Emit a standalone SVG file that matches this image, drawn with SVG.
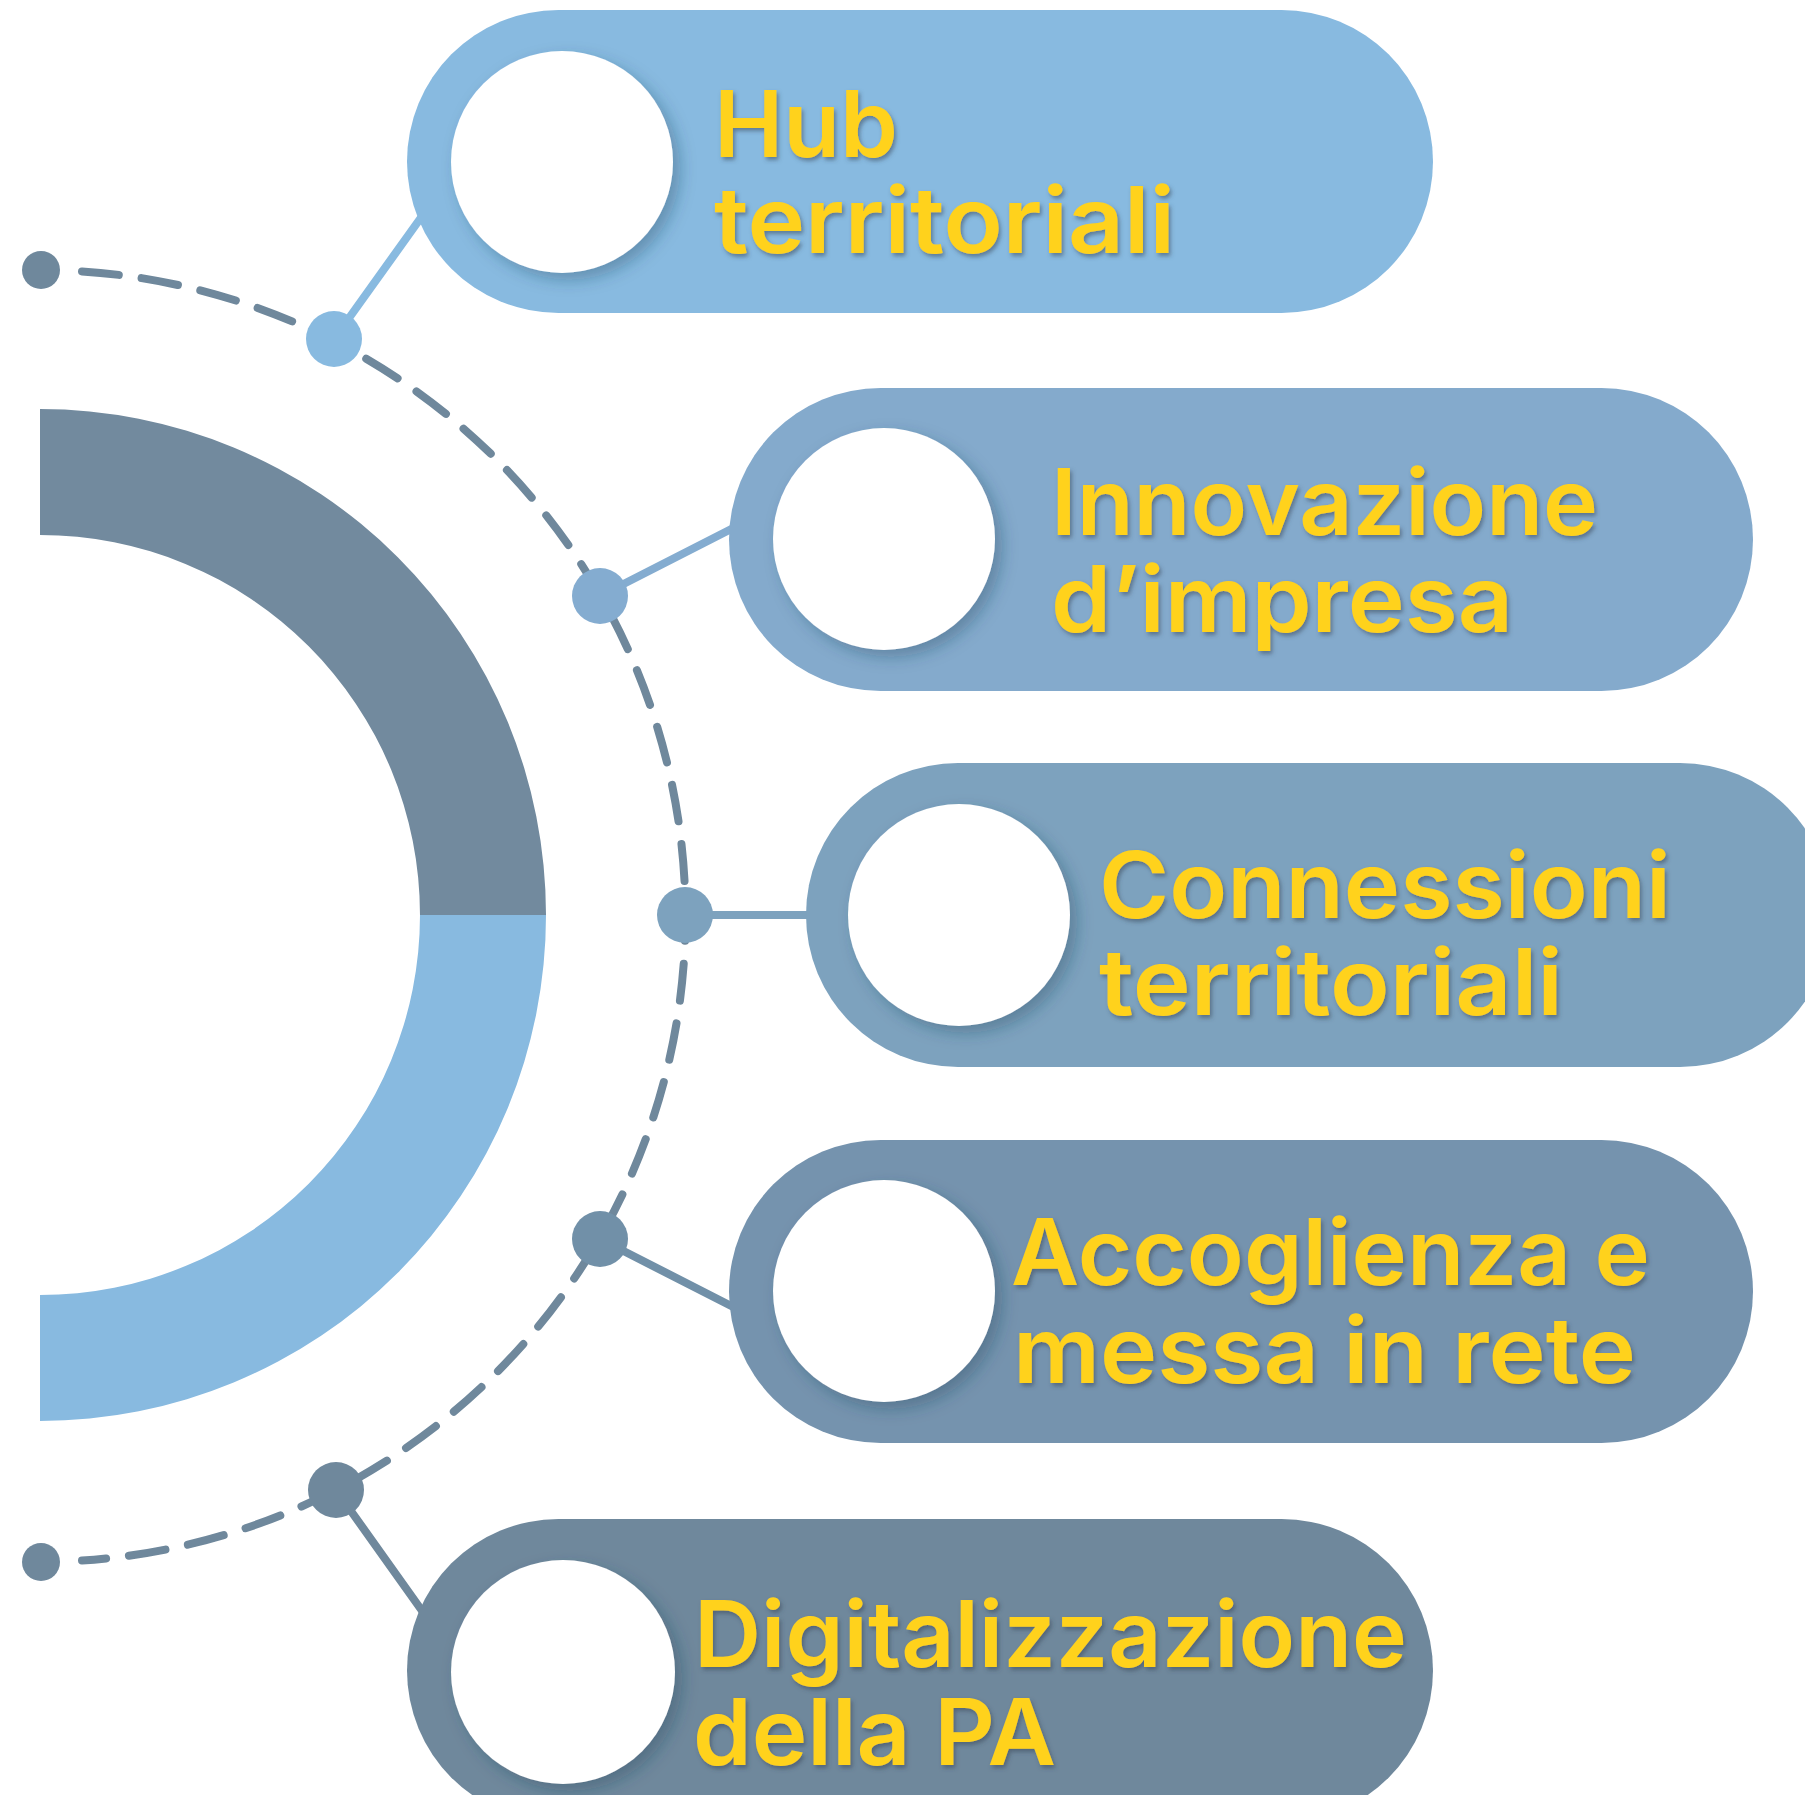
<svg xmlns="http://www.w3.org/2000/svg" width="1805" height="1795" viewBox="0 0 1805 1795">
<defs>
<filter id="cshadow" x="-30%" y="-30%" width="160%" height="160%">
<feDropShadow dx="7" dy="7" stdDeviation="8" flood-color="#24405a" flood-opacity="0.35"/>
</filter>
<filter id="tshadow" x="-5%" y="-20%" width="110%" height="140%">
<feDropShadow dx="2" dy="3" stdDeviation="2" flood-color="#3a4a5a" flood-opacity="0.55"/>
</filter>
</defs>
<style>
.lbl{font-family:Inter,"Liberation Sans",Arial,sans-serif;font-weight:600;font-size:92px;fill:#FFD21C;filter:url(#tshadow)}
.wc{fill:#FFFFFF;filter:url(#cshadow)}
.conn{stroke-width:8;stroke-linecap:round;fill:none}
.dash{fill:none;stroke:#6F889C;stroke-width:8;stroke-dasharray:37 23;stroke-linecap:round}
</style>
<rect width="1805" height="1795" fill="#FFFFFF"/>
<g id="ring">
<path d="M40 409 A506 506 0 0 1 546 915 L420 915 A380 380 0 0 0 40 535 Z" fill="#728A9E"/>
<path d="M546 915 A506 506 0 0 1 40 1421 L40 1295 A380 380 0 0 0 420 915 Z" fill="#88BAE0"/>
</g>
<g id="connectors">
<path class="dash" d="M82 271.4 A646 646 0 0 1 82 1560.6"/>
<circle cx="41" cy="270" r="19" fill="#6F889C"/>
<circle cx="41" cy="1562" r="19" fill="#6F889C"/>
<line class="conn" x1="334" y1="339" x2="430" y2="205" stroke="#88BAE0"/>
<line class="conn" x1="600" y1="596" x2="745" y2="522" stroke="#84ACD0"/>
<line class="conn" x1="685" y1="915" x2="820" y2="915" stroke="#7DA2BE"/>
<line class="conn" x1="600" y1="1239" x2="745" y2="1313" stroke="#7190A8"/>
<line class="conn" x1="336" y1="1490" x2="430" y2="1622" stroke="#6F889C"/>
<circle cx="334" cy="339" r="28" fill="#88BAE0"/>
<circle cx="600" cy="596" r="28" fill="#84ACD0"/>
<circle cx="685" cy="915" r="28" fill="#7DA2BE"/>
<circle cx="600" cy="1239" r="28" fill="#7190A8"/>
<circle cx="336" cy="1490" r="28" fill="#6F889C"/>
</g>
<g id="node1">
<rect x="407" y="10" width="1026" height="303" rx="151.5" fill="#88BAE0"/>
<circle class="wc" cx="562" cy="162" r="111"/>
<text class="lbl"><tspan x="714" y="157" textLength="184" lengthAdjust="spacingAndGlyphs">Hub</tspan><tspan x="714" y="253" textLength="461" lengthAdjust="spacingAndGlyphs">territoriali</tspan></text>
</g>
<g id="node2">
<rect x="729" y="388" width="1024" height="303" rx="151.5" fill="#84AACC"/>
<circle class="wc" cx="884" cy="539" r="111"/>
<text class="lbl"><tspan x="1051" y="535" textLength="547" lengthAdjust="spacingAndGlyphs">Innovazione</tspan><tspan x="1051" y="632" textLength="462" lengthAdjust="spacingAndGlyphs">d’impresa</tspan></text>
</g>
<g id="node3">
<path d="M958 763 H1680 A152 152 0 0 1 1680 1067 H958 A152 152 0 0 1 958 763 Z" fill="#7DA2BE"/>
<circle class="wc" cx="959" cy="915" r="111"/>
<text class="lbl"><tspan x="1099" y="918" textLength="572" lengthAdjust="spacingAndGlyphs">Connessioni</tspan><tspan x="1099" y="1015" textLength="464" lengthAdjust="spacingAndGlyphs">territoriali</tspan></text>
</g>
<g id="node4">
<rect x="729" y="1140" width="1024" height="303" rx="151.5" fill="#7593AE"/>
<circle class="wc" cx="884" cy="1291" r="111"/>
<text class="lbl"><tspan x="1011" y="1285" textLength="639" lengthAdjust="spacingAndGlyphs">Accoglienza e</tspan><tspan x="1013" y="1383" textLength="623" lengthAdjust="spacingAndGlyphs">messa in rete</tspan></text>
</g>
<g id="node5">
<rect x="407" y="1519" width="1026" height="303" rx="151.5" fill="#6F889C"/>
<circle class="wc" cx="563" cy="1672" r="112"/>
<text class="lbl"><tspan x="694" y="1667" textLength="713" lengthAdjust="spacingAndGlyphs">Digitalizzazione</tspan><tspan x="693" y="1765" textLength="363" lengthAdjust="spacingAndGlyphs">della PA</tspan></text>
</g>
</svg>
